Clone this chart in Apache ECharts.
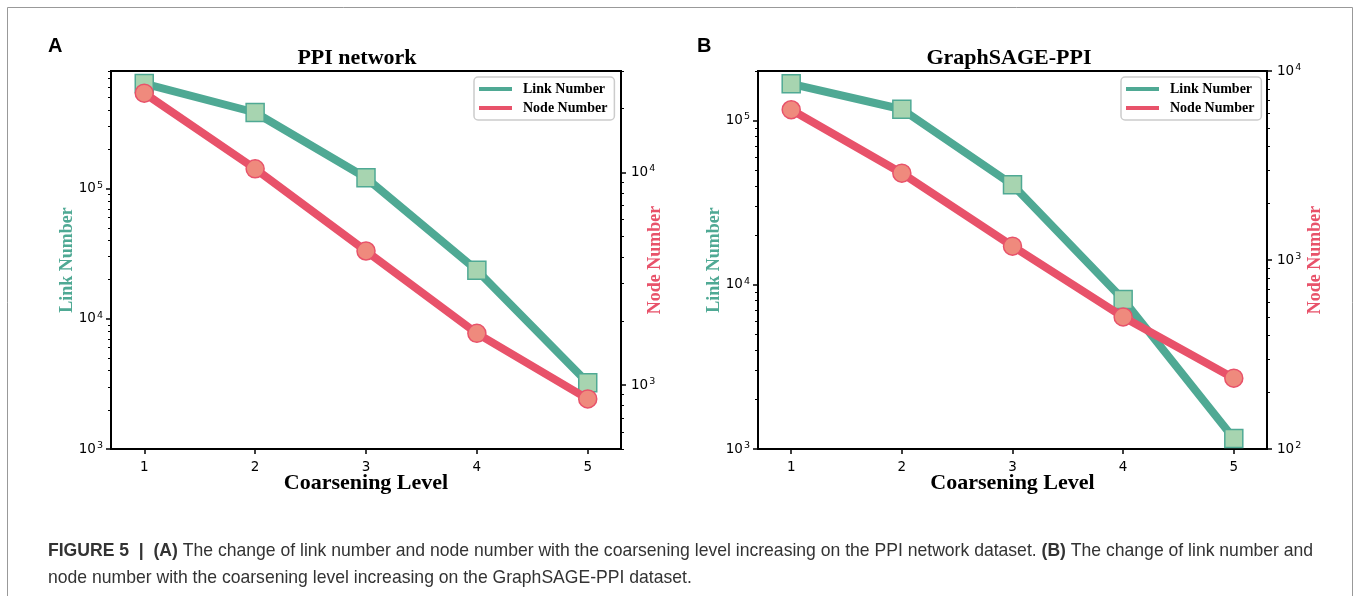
<!DOCTYPE html>
<html>
<head>
<meta charset="utf-8">
<title>Figure 5</title>
<script src="https://cdn.jsdelivr.net/npm/echarts@6/dist/echarts.min.js"></script>
<style>
    html, body { margin: 0; padding: 0; background: #fff; }
    #main { width: 1355px; height: 596px; }
</style>
</head>
<body>
<div id="main"></div>
<script>
    // coarsening levels (x)
    var levels = [1, 2, 3, 4, 5];

    // (A) PPI network
    var ppiLink = [641000, 384000, 121000, 23600, 3230];
    var ppiNode = [23600, 10400, 4270, 1750, 860];

    // (B) GraphSAGE-PPI
    var sageLink = [167000, 117000, 40600, 8130, 1160];
    var sageNode = [6240, 2880, 1183, 500, 237];

    // major tick labels of the log axes
    var ppiLinkTicks = [1e3, 1e4, 1e5];
    var ppiNodeTicks = [1e3, 1e4];
    var sageLinkTicks = [1e3, 1e4, 1e5];
    var sageNodeTicks = [1e2, 1e3, 1e4];

    var linkColor = '#4fa994';
    var linkFill = '#a7d4b0';
    var nodeColor = '#e8526a';
    var nodeFill = '#ef8a7d';
    var serif = 'Liberation Serif';

    // 10^n, exponent drawn as a raised small token
    function powLabel(v) {
        return '{n|10}{s|' + Math.round(Math.log10(v)) + '}';
    }

    var powRich = {
        n: { fontFamily: 'DejaVu Sans', fontSize: 13.5, lineHeight: 17, color: '#000' },
        s: { fontFamily: 'DejaVu Sans', fontSize: 9.5, lineHeight: 11, verticalAlign: 'top', color: '#000', padding: [0, 0, 0, 1] }
    };

    // 2..9 x 10^k inside [min, max]
    function minorTicks(min, max) {
        var out = [];
        for (var k = Math.floor(Math.log10(min)); k <= Math.ceil(Math.log10(max)); k++) {
            for (var m = 2; m <= 9; m++) {
                var v = m * Math.pow(10, k);
                if (v >= min && v <= max) out.push(v);
            }
        }
        return out;
    }

    function pairs(ys) {
        return levels.map(function(x, i) { return [x, ys[i]]; });
    }

    // a log y axis plus a twin that only draws the minor ticks
    function logAxes(grid, pos, min, max, ticks, name, color, nameGap, labelMargin) {
        var major = {
            type: 'log', logBase: 10, gridIndex: grid, position: pos, min: min, max: max,
            name: name, nameLocation: 'middle', nameGap: nameGap, nameRotate: 90, nameMoveOverlap: false,
            nameTextStyle: { color: color, fontFamily: serif, fontWeight: 'bold', fontSize: 18 },
            axisLine: { show: true, onZero: false, lineStyle: { color: '#000', width: 2 } },
            axisTick: { show: true, customValues: ticks, length: 5, lineStyle: { color: '#000', width: 1.5 } },
            axisLabel: { customValues: ticks, formatter: powLabel, margin: labelMargin, rich: powRich },
            splitLine: { show: false }
        };
        var minor = {
            type: 'log', logBase: 10, gridIndex: grid, position: pos, min: min, max: max,
            axisLine: { show: false },
            axisTick: { show: true, customValues: minorTicks(min, max), length: 3,
                lineStyle: { color: '#000', width: 1 } },
            axisLabel: { show: false },
            splitLine: { show: false }
        };
        return [major, minor];
    }

    function xAxis(grid) {
        return {
            type: 'value', gridIndex: grid, min: 0.7, max: 5.3,
            name: 'Coarsening Level', nameLocation: 'middle', nameGap: 23, nameMoveOverlap: false,
            nameTextStyle: { color: '#000', fontFamily: serif, fontWeight: 'bold', fontSize: 22 },
            axisLine: { onZero: false, lineStyle: { color: '#000', width: 2 } },
            axisTick: { customValues: levels, length: 5, lineStyle: { color: '#000', width: 1.5 } },
            axisLabel: { customValues: levels, margin: 11, fontFamily: 'DejaVu Sans', fontSize: 13.5, color: '#000' },
            splitLine: { show: false }
        };
    }

    function linkSeries(xi, yi, ys) {
        return {
            name: 'Link Number', type: 'line', xAxisIndex: xi, yAxisIndex: yi, z: 2,
            data: pairs(ys), symbol: 'rect', symbolSize: 18,
            lineStyle: { color: linkColor, width: 8 },
            itemStyle: { color: linkFill, borderColor: linkColor, borderWidth: 1.5 }
        };
    }

    function nodeSeries(xi, yi, ys) {
        return {
            name: 'Node Number', type: 'line', xAxisIndex: xi, yAxisIndex: yi, z: 3,
            data: pairs(ys), symbol: 'circle', symbolSize: 18,
            lineStyle: { color: nodeColor, width: 8 },
            itemStyle: { color: nodeFill, borderColor: nodeColor, borderWidth: 1.5 }
        };
    }

    function legend(left) {
        return {
            left: left, top: 77, orient: 'vertical', icon: 'rect', selectedMode: false,
            itemWidth: 33, itemHeight: 4, itemGap: 5, padding: [5, 7, 5, 5],
            backgroundColor: '#fff', borderColor: '#ccc', borderWidth: 1.5, borderRadius: 4,
            textStyle: { fontFamily: serif, fontWeight: 'bold', fontSize: 14, color: '#000', padding: [0, 0, 0, 6] },
            data: [
                { name: 'Link Number', itemStyle: { color: linkColor, borderWidth: 0 } },
                { name: 'Node Number', itemStyle: { color: nodeColor, borderWidth: 0 } }
            ]
        };
    }

    function titleText(text, left, top, font, size) {
        return {
            text: text, left: left, top: top, padding: 0,
            textAlign: font === serif ? 'center' : 'left',
            textStyle: { fontFamily: font, fontWeight: 'bold', fontSize: size, color: '#000' }
        };
    }

    var yAxes = []
        .concat(logAxes(0, 'left', 1e3, 8e5, ppiLinkTicks, 'Link Number', linkColor, 35, 8))
        .concat(logAxes(0, 'right', 500, 3e4, ppiNodeTicks, 'Node Number', nodeColor, 25, 10))
        .concat(logAxes(1, 'left', 1e3, 2e5, sageLinkTicks, 'Link Number', linkColor, 35, 8))
        .concat(logAxes(1, 'right', 1e2, 1e4, sageNodeTicks, 'Node Number', nodeColor, 39, 10));

    var caption = '{b|FIGURE 5  |  (A)} The change of link number and node number with the coarsening level increasing on the PPI network dataset. ' +
        '{b|(B)} The change of link number and\nnode number with the coarsening level increasing on the GraphSAGE-PPI dataset.';

    var option = {
        animation: false,
        backgroundColor: '#fff',
        title: [
            titleText('A', 48, 36, 'Liberation Sans', 20),
            titleText('B', 697, 36, 'Liberation Sans', 20),
            titleText('PPI network', 357, 47, serif, 22),
            titleText('GraphSAGE-PPI', 1009, 47, serif, 22)
        ],
        legend: [legend(474), legend(1121)],
        grid: [
            { left: 111, top: 71, width: 510, height: 378, show: true, borderColor: '#000', borderWidth: 2 },
            { left: 758, top: 71, width: 509, height: 378, show: true, borderColor: '#000', borderWidth: 2 }
        ],
        xAxis: [xAxis(0), xAxis(1)],
        yAxis: yAxes,
        series: [
            linkSeries(0, 0, ppiLink),
            nodeSeries(0, 2, ppiNode),
            linkSeries(1, 4, sageLink),
            nodeSeries(1, 6, sageNode)
        ],
        graphic: [
            {
                type: 'rect', silent: true,
                shape: { x: 7.5, y: 7.5, width: 1345, height: 640 },
                style: { fill: 'none', stroke: '#999', lineWidth: 1 }
            },
            {
                type: 'text', left: 48, top: 537, silent: true, scaleX: 0.95,
                style: {
                    text: caption, fill: '#333',
                    fontFamily: 'Liberation Sans', fontSize: 18.5, lineHeight: 27,
                    rich: {
                        b: { fontFamily: 'Liberation Sans', fontWeight: 'bold',
                            fontSize: 18.5, lineHeight: 27, fill: '#333' }
                    }
                }
            }
        ]
    };

    var chart = echarts.init(document.getElementById('main'));
    chart.setOption(option);
</script>
</body>
</html>
